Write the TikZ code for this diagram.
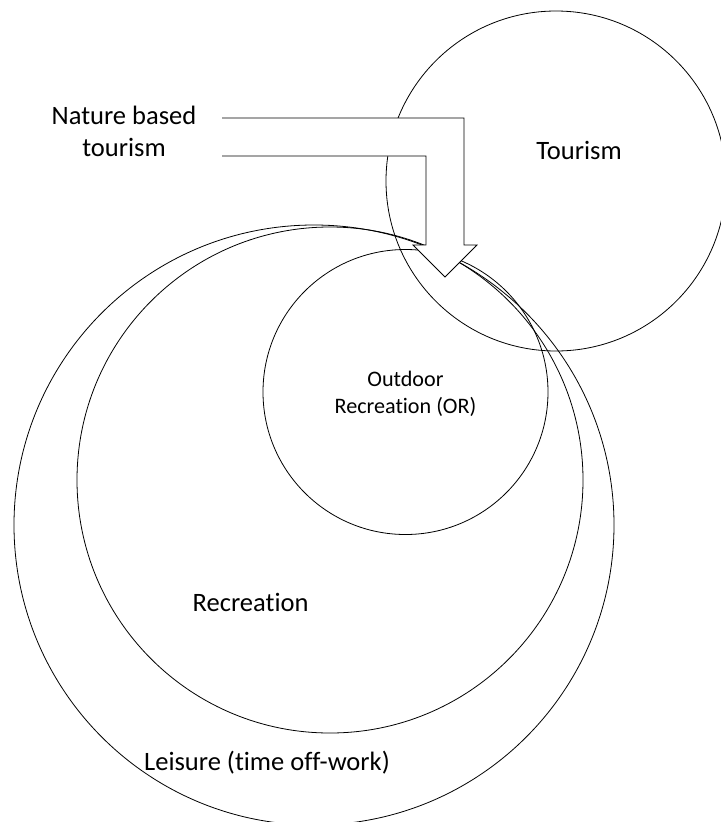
\documentclass[tikz,border=0pt]{standalone}
\usepackage{fontspec}
\setmainfont{Carlito}[Ligatures=NoCommon]
\begin{document}
\begin{tikzpicture}[x=0.75pt, y=-0.75pt, line width=0.6pt,
    ring/.style={draw=black, circle, inner sep=0pt, outer sep=0pt},
    bigtext/.style={font=\fontsize{19.9}{24}\selectfont, align=center, inner sep=0pt},
    smalltext/.style={font=\fontsize{16.6}{20.3}\selectfont, align=center, inner sep=0pt}]
    \useasboundingbox (0,0) rectangle (721,822);
    % nested circles
    \node[ring, minimum size=450pt] (leisure) at (314,525) {};
    \node[ring, minimum size=379.5pt] (recreation) at (330,480) {};
    \node[ring, minimum size=213.75pt] (outdoor) at (405.5,392) {};
    % tourism circle
    \node[ring, minimum size=255pt] (tourism) at (556,181) {};
    % bent block arrow
    \draw[fill=white] (222,118) -- (464,118) -- (464,245) -- (477,245) -- (445,277)
        -- (413,245) -- (426,245) -- (426,156) -- (222,156);
    % labels
    \node[bigtext] (naturelabel) at (124,131) {Nature based\\tourism};
    \node[bigtext] (tourismlabel) at (579,150) {Tourism};
    \node[smalltext] (outdoorlabel) at (405.5,393.5) {Outdoor\\Recreation (OR)};
    \node[bigtext] (recreationlabel) at (250.6,602) {Recreation};
    \node[bigtext] (leisurelabel) at (267,763) {Leisure (time off-work)};
\end{tikzpicture}
\end{document}
